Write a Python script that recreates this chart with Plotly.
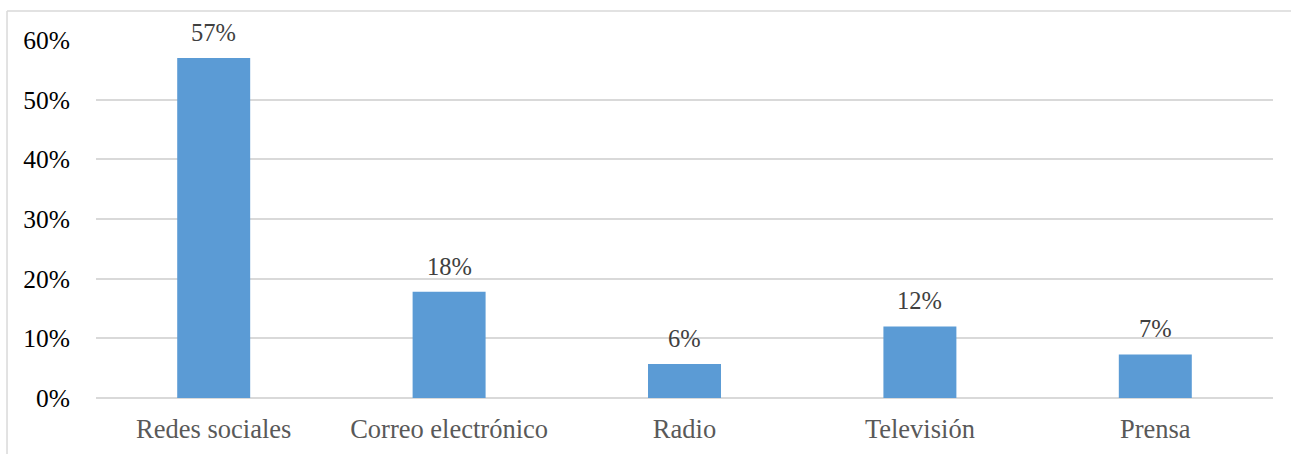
import plotly.graph_objects as go

categories = ["Redes sociales", "Correo electrónico", "Radio", "Televisión", "Prensa"]
shares = [0.57, 0.178, 0.057, 0.12, 0.073]
y_ticks = [0, 0.1, 0.2, 0.3, 0.4, 0.5, 0.6]
y_tick_labels = ["0%", "10%", "20%", "30%", "40%", "50%", "60%"]

FONT = "Liberation Serif"
BAR_COLOR = "#5B9BD5"
GRID = "#d9d9d9"

fig = go.Figure(
    go.Bar(
        x=categories,
        y=shares,
        marker=dict(color=BAR_COLOR, line=dict(width=0)),
        hoverinfo="skip",
    )
)

# value labels above each bar
for cat, val in zip(categories, shares):
    fig.add_annotation(
        x=cat, y=val, text=f"{val:.0%}", showarrow=False,
        yanchor="bottom", yshift=10,
        font=dict(family=FONT, size=24.5, color="#404040"),
    )

# thin frame around the chart area
fig.add_shape(type="line", xref="paper", yref="paper",
              x0=-0.0756, x1=1.2, y0=1.081, y1=1.081,
              line=dict(color=GRID, width=1.5))
fig.add_shape(type="line", xref="paper", yref="paper",
              x0=-0.0756, x1=-0.0756, y0=-0.3, y1=1.081,
              line=dict(color=GRID, width=1.5))

fig.update_layout(
    template="none",
    width=1291, height=454,
    margin=dict(l=96, r=18, t=40, b=56),
    paper_bgcolor="white", plot_bgcolor="white",
    bargap=0.69, showlegend=False,
    font=dict(family=FONT, size=24),
)
fig.update_xaxes(
    showline=False, showgrid=False, zeroline=False, ticks="",
    tickfont=dict(family=FONT, size=26.5, color="#595959"),
    ticklabelstandoff=12,
)
fig.update_yaxes(
    range=[0, 0.6], tickvals=y_ticks, ticktext=y_tick_labels,
    showgrid=True, gridcolor=GRID, gridwidth=2,
    zeroline=True, zerolinecolor=GRID, zerolinewidth=2,
    showline=False, ticks="",
    tickfont=dict(family=FONT, size=25.5, color="#000000"),
    ticklabelstandoff=25,
)

fig.write_html("out.html")
